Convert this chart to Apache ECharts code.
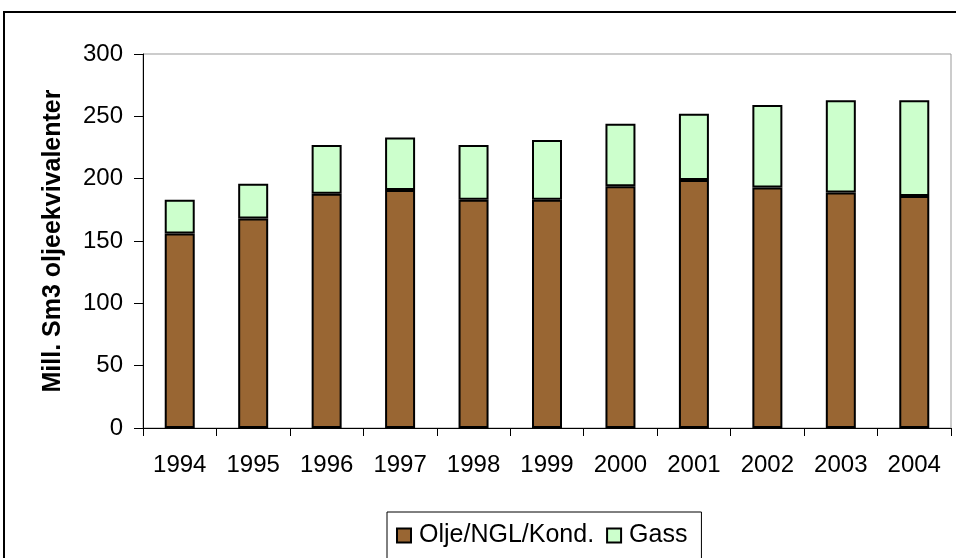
<!DOCTYPE html>
<html>
<head>
<meta charset="utf-8">
<script src="https://cdn.jsdelivr.net/npm/echarts@6/dist/echarts.min.js"></script>
<style>
  html, body { margin: 0; padding: 0; background: #fff; }
  #main { width: 956px; height: 558px; }
</style>
</head>
<body>
<div id="main"></div>
<script>
var myChart = echarts.init(document.getElementById("main"));
var years = ['1994','1995','1996','1997','1998','1999','2000','2001','2002','2003','2004'];
var olje = [156, 168, 188, 191, 183, 183, 194, 199, 193, 189, 186];
var gass = [27, 28, 39, 42, 44, 48, 50, 53, 66, 74, 77];
var yTicks = [0, 300, 50];   // min, max, interval

var font = 'Liberation Sans, Arial, sans-serif';
var option = {
  animation: false,
  textStyle: { fontFamily: font },
  graphic: [{
    type: 'rect',
    shape: { x: 4, y: 12, width: 1000, height: 600 },
    style: { fill: 'none', stroke: '#000', lineWidth: 2 }
  }],
  grid: {
    left: 143, right: 5, top: 54, bottom: 130,
    show: true, borderColor: '#999', borderWidth: 1
  },
  legend: {
    left: 387, top: 512,
    padding: [11, 14, 40, 9],
    icon: 'rect',
    itemWidth: 14, itemHeight: 14, itemGap: 12,
    borderColor: '#000', borderWidth: 1,
    textStyle: { fontSize: 25, color: '#000', fontFamily: font, padding: [0, 0, 0, 3] },
    data: ['Olje/NGL/Kond.', 'Gass']
  },
  xAxis: {
    type: 'category',
    data: years,
    axisLine: { lineStyle: { color: '#000', width: 1 } },
    axisTick: { show: true, length: 8, lineStyle: { color: '#000' } },
    axisLabel: { fontSize: 24, color: '#000', margin: 25 }
  },
  yAxis: {
    type: 'value',
    min: yTicks[0], max: yTicks[1], interval: yTicks[2],
    name: 'Mill. Sm3 oljeekvivalenter',
    nameLocation: 'middle',
    nameGap: 77,
    nameTextStyle: { fontSize: 25, fontWeight: 'bold', color: '#000' },
    splitLine: { show: false },
    axisLine: { show: true, lineStyle: { color: '#000', width: 1 } },
    axisTick: { show: true, length: 9, lineStyle: { color: '#000' } },
    axisLabel: { fontSize: 24, color: '#000', margin: 20 }
  },
  series: [{
    name: 'Olje/NGL/Kond.',
    type: 'bar',
    stack: 'tot',
    barWidth: 30,
    itemStyle: { color: '#996633', borderColor: '#000', borderWidth: 2 },
    data: olje
  }, {
    name: 'Gass',
    type: 'bar',
    stack: 'tot',
    barWidth: 30,
    itemStyle: { color: '#CCFFCC', borderColor: '#000', borderWidth: 2 },
    data: gass
  }]
};
myChart.setOption(option);
</script>
</body>
</html>
